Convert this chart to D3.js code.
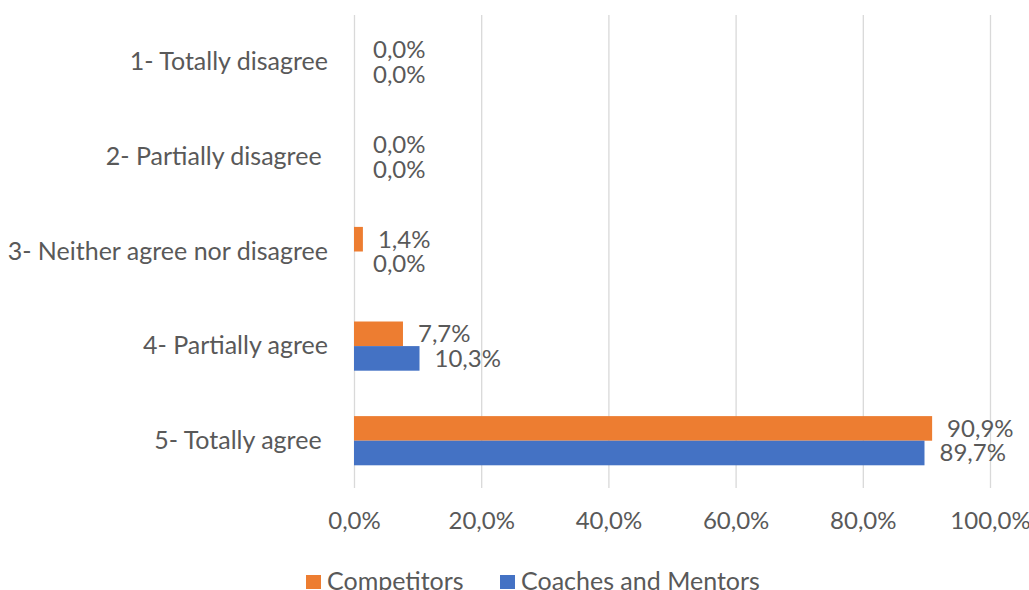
<!DOCTYPE html>
<html>
<head>
<meta charset="utf-8">
<script src="https://cdn.jsdelivr.net/npm/d3@7"></script>
<style>
  html, body { margin: 0; padding: 0; background: #fff; overflow: hidden; }
  text { font-family: Lato, "Open Sans", sans-serif; fill: #595959; }
</style>
</head>
<body>
<div id="chart"></div>
<script>
"use strict";

/* ── Data ── */
const categories  = ["1- Totally disagree", "2- Partially disagree ", "3- Neither agree nor disagree", "4- Partially agree", "5- Totally agree "];
const seriesNames = ["Competitors", "Coaches and Mentors"];
const competitors = [0.0, 0.0, 1.4, 7.7, 90.9];
const coaches     = [0.0, 0.0, 0.0, 10.3, 89.7];
const xTicks      = [0, 20, 40, 60, 80, 100];

const COLOURS = { Competitors: "#ED7D31", "Coaches and Mentors": "#4472C4" };

/* ── Dimensions ── */
const W = 1029, H = 590;
const margin = { top: 15, right: 39, bottom: 102, left: 354 };
const width  = W - margin.left - margin.right;
const height = H - margin.top - margin.bottom;
const FONT   = "24px";
const FONT_L = "25px";

const rows = categories.map((c, i) => ({
  cat: c,
  values: [
    { key: seriesNames[0], v: competitors[i] },
    { key: seriesNames[1], v: coaches[i] }
  ]
}));

const fmt = v => d3.format(".1f")(v).replace(".", ",") + "%";

const svg = d3.select("#chart").append("svg")
  .attr("width", W).attr("height", H);

const g = svg.append("g")
  .attr("transform", `translate(${margin.left},${margin.top})`);

/* ── Scales ── */
const x  = d3.scaleLinear().domain([0, 100]).range([0, width]);
const y  = d3.scaleBand().domain(categories).range([0, height]).paddingInner(0.48).paddingOuter(0.24);
const y1 = d3.scaleBand().domain(seriesNames).range([0, y.bandwidth()]);

/* ── Gridlines ── */
g.append("g")
  .call(d3.axisBottom(x).tickValues(xTicks).tickSize(height).tickFormat(""))
  .call(a => {
    a.select(".domain").remove();
    a.selectAll("line").attr("stroke", "#d9d9d9").attr("stroke-width", 1.3);
  });

/* ── X axis labels ── */
g.append("g")
  .attr("transform", `translate(0,${height})`)
  .call(d3.axisBottom(x).tickValues(xTicks).tickSize(0).tickPadding(24).tickFormat(fmt))
  .call(a => {
    a.select(".domain").remove();
    a.selectAll(".tick text")
      .attr("font-size", FONT)
      .attr("font-family", "Lato, sans-serif")
      .attr("fill", "#595959");
  });

/* ── Category labels ── */
g.append("g")
  .call(d3.axisLeft(y).tickSize(0).tickPadding(26))
  .call(a => {
    a.select(".domain").remove();
    a.selectAll(".tick text")
      .attr("font-size", FONT_L)
      .attr("font-family", "Lato, sans-serif")
      .attr("fill", "#595959")
      .style("white-space", "pre");
  });

/* ── Bars ── */
const grp = g.selectAll(".cat")
  .data(rows)
  .join("g")
  .attr("class", "cat")
  .attr("transform", d => `translate(0,${y(d.cat)})`);

grp.selectAll("rect")
  .data(d => d.values)
  .join("rect")
  .attr("x", x(0))
  .attr("y", d => y1(d.key))
  .attr("width", d => x(d.v) - x(0))
  .attr("height", y1.bandwidth())
  .attr("fill", d => COLOURS[d.key]);

/* ── Data labels ── */
grp.selectAll("text.lbl")
  .data(d => d.values)
  .join("text")
  .attr("class", "lbl")
  .attr("x", d => x(d.v) + (d.v === 0 ? 19 : 15))
  .attr("y", d => y1(d.key) + y1.bandwidth() / 2)
  .attr("dy", "0.35em")
  .attr("font-size", FONT)
  .text(d => fmt(d.v));

/* ── Legend ── */
const legend = svg.append("g").attr("transform", "translate(306,581)");
[{ label: seriesNames[0], x: 0 }, { label: seriesNames[1], x: 194 }].forEach(item => {
  const lg = legend.append("g").attr("transform", `translate(${item.x},0)`);
  lg.append("rect").attr("x", 0).attr("y", -6).attr("width", 15).attr("height", 14)
    .attr("fill", COLOURS[item.label]);
  lg.append("text").attr("x", 21).attr("y", 0).attr("dy", "0.35em")
    .attr("font-size", FONT_L).text(item.label);
});
</script>
</body>
</html>
